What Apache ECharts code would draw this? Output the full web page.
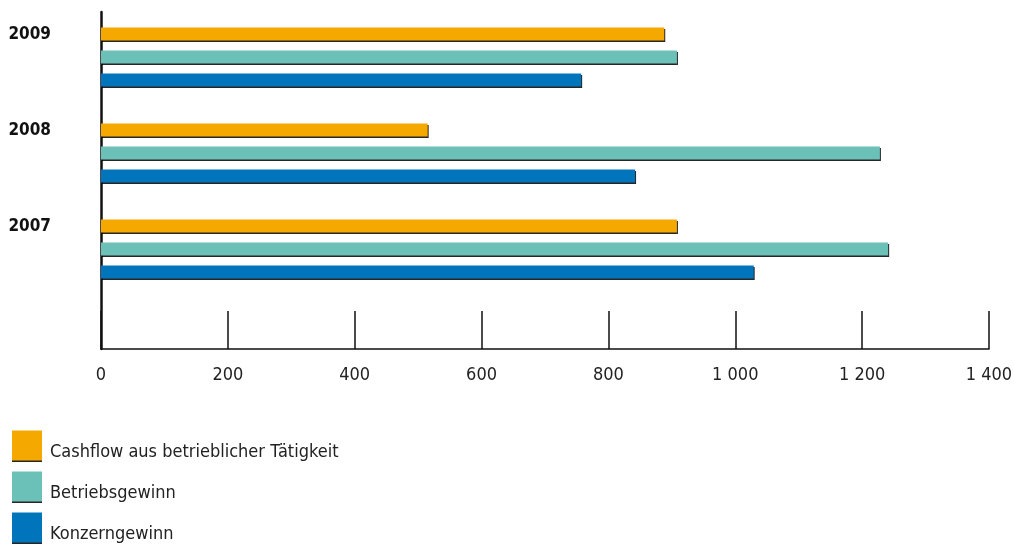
<!DOCTYPE html>
<html>
<head>
    <meta charset="utf-8">
    <title>Cashflow / Betriebsgewinn / Konzerngewinn</title>
    <script src="https://cdn.jsdelivr.net/npm/echarts@6/dist/echarts.min.js"></script>
    <style>
        html, body { margin: 0; padding: 0; background: #fff; }
        #chart { width: 1014px; height: 544px; }
    </style>
</head>
<body>
<div id="chart"></div>
<script type="text/javascript">
    // Daten (von oben nach unten)
    var years = ['2009', '2008', '2007'];
    var cashflow = [888, 515, 908];
    var betriebsgewinn = [908, 1228, 1241];
    var konzerngewinn = [757, 842, 1029];
    var xTicks = [0, 200, 400, 600, 800, 1000, 1200, 1400];

    var font = '"Liberation Sans Narrow", "DejaVu Sans Condensed", "Liberation Sans", sans-serif';
    var ink = '#111';

    function fmt(v) {
        if (v >= 1000) {
            return Math.floor(v / 1000) + ' ' + String(v % 1000).padStart(3, '0');
        }
        return String(v);
    }

    var shadow = {
        shadowColor: 'rgba(0,0,0,0.85)',
        shadowBlur: 0,
        shadowOffsetX: 1,
        shadowOffsetY: 1.5
    };

    function barSeries(name, color, data) {
        return {
            name: name,
            type: 'bar',
            xAxisIndex: 0,
            yAxisIndex: 0,
            barWidth: 13,
            barGap: '77%',
            data: data,
            itemStyle: Object.assign({ color: color }, shadow),
            emphasis: { disabled: true }
        };
    }

    var myChart = echarts.init(document.getElementById('chart'));
    myChart.setOption({
        animation: false,
        textStyle: { fontFamily: font },
        grid: [
            { left: 101, right: 25, top: 9, height: 288, containLabel: false, outerBoundsMode: 'none' },
            { left: 101, right: 25, top: 12, bottom: 195, containLabel: false, outerBoundsMode: 'none' }
        ],
        legend: {
            orient: 'vertical',
            left: 12,
            top: 430,
            height: 200,
            padding: 0,
            itemWidth: 30,
            itemHeight: 30,
            itemGap: 10,
            icon: 'rect',
            itemStyle: { shadowColor: 'rgba(0,0,0,0.85)', shadowBlur: 0, shadowOffsetX: 0, shadowOffsetY: 1.5 },
            formatter: '{t|{name}}',
            textStyle: {
                fontFamily: font,
                fontSize: 18,
                color: '#222',
                rich: {
                    t: { fontFamily: font, fontSize: 18, lineHeight: 16, color: '#222', padding: [13, 0, 0, 3] }
                }
            },
            data: ['Cashflow aus betrieblicher Tätigkeit', 'Betriebsgewinn', 'Konzerngewinn']
        },
        xAxis: [
            {
                gridIndex: 0,
                type: 'value',
                min: 0,
                max: 1400,
                show: false
            },
            {
                gridIndex: 1,
                type: 'value',
                min: 0,
                max: 1400,
                interval: 200,
                axisLine: { show: true, lineStyle: { color: ink, width: 1.5 } },
                axisTick: { show: true, inside: true, length: 38, lineStyle: { color: ink, width: 1.5 } },
                splitLine: { show: false },
                axisLabel: {
                    margin: 17,
                    fontFamily: font,
                    fontSize: 18,
                    color: '#222',
                    formatter: fmt,
                    customValues: xTicks
                }
            }
        ],
        yAxis: [
            {
                gridIndex: 0,
                type: 'category',
                inverse: true,
                data: years,
                axisLine: { show: false },
                axisTick: { show: false },
                axisLabel: {
                    margin: 50,
                    formatter: '{y|{value}}',
                    rich: {
                        y: {
                            fontFamily: font,
                            fontSize: 17,
                            fontWeight: 'bold',
                            color: '#111',
                            padding: [0, 0, 44, 0]
                        }
                    }
                }
            },
            {
                gridIndex: 1,
                type: 'value',
                min: 0,
                max: 1,
                axisLine: { show: true, lineStyle: { color: ink, width: 2.5 } },
                axisTick: { show: false },
                axisLabel: { show: false },
                splitLine: { show: false }
            }
        ],
        series: [
            barSeries('Cashflow aus betrieblicher Tätigkeit', '#F5A800', cashflow),
            barSeries('Betriebsgewinn', '#6BC0B8', betriebsgewinn),
            barSeries('Konzerngewinn', '#0075BB', konzerngewinn)
        ]
    });
</script>
</body>
</html>
